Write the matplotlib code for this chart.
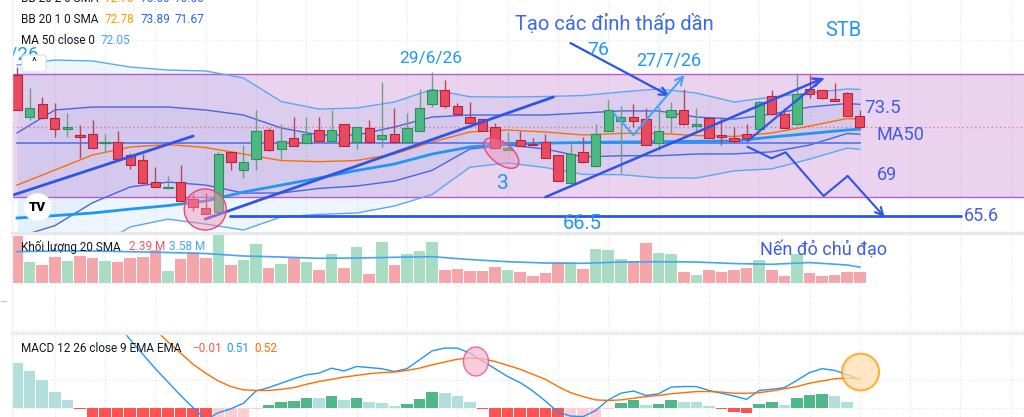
import matplotlib
matplotlib.use('Agg')
import matplotlib.pyplot as plt
from matplotlib.patches import Rectangle, Ellipse, Circle, FancyBboxPatch
from matplotlib.transforms import IdentityTransform

plt.rcParams['font.family'] = ['Roboto', 'DejaVu Sans']

# ---- price data (daily candles) ----
opens = [76.06, 72.93, 73.89, 72.90, 72.06, 71.62, 71.70, 71.00, 71.08, 70.14,
         69.77, 68.16, 67.72, 68.16, 66.86, 66.19, 65.94, 70.34, 69.03, 69.82,
         71.99, 70.56, 71.38, 71.00, 71.97, 71.15, 72.41, 71.08, 72.12, 71.33,
         71.70, 71.08, 71.94, 73.89, 74.95, 73.77, 72.93, 72.81, 72.19, 70.53,
         71.25, 70.95, 71.08, 70.14, 68.09, 70.38, 69.30, 71.94, 72.68, 72.93,
         72.83, 71.00, 72.93, 73.47, 72.31, 72.86, 71.62, 71.38, 71.70, 72.04,
         74.51, 73.15, 72.41, 75.03, 74.95, 74.29, 74.71, 73.03]
highs = [76.66, 75.10, 74.46, 74.01, 73.23, 72.36, 72.73, 71.67, 71.92, 70.26,
         70.19, 69.27, 68.58, 69.40, 67.23, 67.30, 70.34, 70.36, 70.88, 73.47,
         72.16, 72.41, 72.98, 72.98, 72.98, 73.47, 72.43, 72.21, 72.73, 75.52,
         73.60, 73.27, 75.03, 76.31, 75.69, 74.01, 74.09, 72.83, 72.53, 71.86,
         71.92, 71.38, 71.70, 70.16, 70.95, 71.49, 72.41, 74.21, 73.77, 73.89,
         73.64, 73.72, 74.09, 75.03, 73.60, 72.88, 72.98, 72.23, 72.43, 74.11,
         74.95, 73.60, 76.19, 76.06, 74.97, 75.45, 74.78, 73.47]
lows = [73.45, 72.73, 72.84, 71.49, 71.49, 69.94, 70.61, 70.34, 69.80, 69.10,
        68.04, 67.73, 67.70, 66.71, 66.01, 65.77, 65.92, 69.03, 68.41, 69.03,
        70.47, 69.84, 70.79, 70.98, 71.13, 71.13, 70.79, 70.58, 71.06, 70.75,
        71.06, 71.06, 71.92, 73.72, 73.64, 73.16, 72.51, 71.92, 70.61, 70.51,
        70.79, 70.84, 69.92, 68.21, 68.07, 69.58, 69.28, 71.92, 68.83, 72.19,
        70.86, 70.51, 71.75, 72.39, 71.92, 71.40, 70.88, 71.00, 71.25, 72.02,
        73.13, 72.10, 72.39, 74.34, 74.26, 74.12, 73.03, 72.21]
closes = [73.47, 73.60, 72.86, 72.04, 72.23, 71.49, 70.63, 71.10, 69.82, 69.40,
          68.06, 67.75, 67.79, 66.73, 66.31, 65.79, 70.19, 69.60, 69.60, 71.92,
          70.49, 71.15, 70.81, 71.67, 71.15, 71.97, 70.81, 72.19, 71.08, 71.62,
          71.08, 72.16, 73.64, 74.95, 73.79, 73.18, 72.53, 71.94, 70.63, 70.66,
          70.81, 70.86, 69.94, 68.23, 70.19, 69.60, 71.70, 73.47, 72.93, 72.68,
          70.88, 71.92, 73.47, 72.41, 72.43, 71.42, 71.49, 71.18, 71.42, 74.09,
          73.15, 72.12, 74.63, 74.63, 74.34, 74.14, 73.05, 72.23]

# volume in millions
volume = [10.74, 4.69, 4.07, 5.84, 5.06, 6.21, 5.75, 4.99, 4.76, 5.75,
          5.98, 7.52, 2.69, 5.38, 6.99, 5.75, 11.5, 4.07, 5.22, 8.90,
          3.31, 4.30, 5.84, 4.76, 2.85, 6.60, 3.45, 8.14, 2.00, 9.43,
          4.07, 6.60, 7.29, 9.43, 2.85, 3.15, 2.69, 2.69, 3.61, 2.85,
          2.39, 1.54, 2.23, 4.69, 4.69, 3.15, 7.75, 7.52, 5.45, 5.06,
          9.20, 6.83, 6.60, 2.53, 1.77, 2.85, 2.53, 2.85, 3.31, 5.22,
          2.85, 1.54, 6.53, 2.16, 1.54, 1.70, 2.39, 2.39]

# indicator lines, read every third bar
line_idx = [0, 3, 6, 9, 12, 15, 18, 21, 24, 27, 30, 33, 36, 39, 42, 45, 48, 51, 54, 57, 60, 63, 66, 67]
basis = [67.91, 69.02, 70.14, 70.73, 70.91, 70.69, 70.21, 69.73, 69.64, 69.73, 70.21, 71.10,
         71.84, 71.99, 71.84, 71.62, 71.74, 71.74, 71.58, 71.51, 71.77, 72.28, 72.84, 72.78]
bb1_up = [71.77, 73.47, 73.69, 73.69, 73.69, 73.47, 73.10, 72.14, 71.62, 71.62, 72.21, 72.95,
          73.10, 73.10, 73.10, 73.25, 73.40, 73.40, 72.95, 72.80, 73.17, 73.69, 73.95, 73.89]
bb2_up = [76.80, 77.17, 77.10, 76.65, 76.43, 76.36, 75.84, 74.10, 73.54, 73.62, 74.06, 74.99,
          74.45, 74.43, 74.47, 74.54, 74.80, 75.03, 74.73, 74.06, 74.43, 74.73, 75.03, 75.00]
bb1_lo = [64.05, 64.90, 66.60, 67.77, 68.13, 67.91, 67.32, 67.32, 67.66, 67.84, 68.21, 69.00,
          70.58, 70.88, 70.58, 69.99, 70.08, 70.08, 70.21, 70.22, 70.37, 70.87, 71.73, 71.67]
bb2_lo = [59.02, 60.87, 63.18, 64.81, 65.39, 65.02, 64.58, 65.55, 65.74, 65.84, 66.36, 67.21,
          69.23, 69.55, 69.21, 68.70, 68.68, 68.45, 68.43, 68.96, 69.11, 69.83, 70.65, 70.56]
ma50 = [65.47, 65.65, 65.84, 66.13, 66.39, 66.73, 67.39, 67.91, 68.43, 68.99, 69.47, 70.21,
        70.73, 70.95, 71.02, 71.06, 71.10, 71.12, 71.15, 71.17, 71.47, 71.73, 71.99, 72.05]
vol_sma = [7.13, 7.29, 7.29, 7.13, 6.94, 6.71, 6.14, 5.91, 5.61, 5.68, 5.84, 5.98,
           5.33, 4.83, 4.53, 4.46, 4.76, 4.83, 4.76, 4.41, 4.23, 4.64, 4.07, 3.58]
flat_level = 71.0
last_close = 72.23

# MACD 12 26 9
macd = [2.60, 2.58, 2.50, 2.40, 2.25, 2.10, 1.95, 1.78, 1.50, 1.22,
        0.96, 0.70, 0.46, 0.22, 0.00, -0.22, -0.09, -0.02, 0.08, 0.30,
        0.36, 0.44, 0.52, 0.59, 0.62, 0.71, 0.66, 0.74, 0.72, 0.70,
        0.65, 0.70, 0.86, 1.02, 1.07, 1.07, 0.98, 0.84, 0.70, 0.56,
        0.45, 0.30, 0.12, -0.08, -0.15, -0.16, -0.05, 0.14, 0.26, 0.30,
        0.22, 0.25, 0.37, 0.38, 0.38, 0.31, 0.26, 0.21, 0.15, 0.31,
        0.33, 0.36, 0.49, 0.63, 0.70, 0.67, 0.59, 0.51]
signal = [1.80, 1.92, 2.00, 2.08, 2.12, 2.13, 2.10, 2.03, 1.92, 1.76,
          1.59, 1.40, 1.18, 0.98, 0.78, 0.62, 0.48, 0.38, 0.32, 0.31,
          0.31, 0.33, 0.36, 0.42, 0.47, 0.51, 0.55, 0.58, 0.61, 0.63,
          0.64, 0.67, 0.71, 0.77, 0.82, 0.87, 0.89, 0.88, 0.83, 0.76,
          0.69, 0.60, 0.51, 0.38, 0.27, 0.20, 0.14, 0.13, 0.14, 0.17,
          0.20, 0.22, 0.25, 0.27, 0.29, 0.29, 0.28, 0.26, 0.26, 0.27,
          0.30, 0.34, 0.38, 0.44, 0.48, 0.52, 0.53, 0.52]
hist = [0.81, 0.66, 0.50, 0.28, 0.14, -0.03, -0.25, -0.45, -0.55, -0.60,
        -0.65, -0.70, -0.72, -0.76, -0.78, -0.84, -0.57, -0.40, -0.24, -0.03,
        0.05, 0.11, 0.12, 0.18, 0.17, 0.21, 0.14, 0.17, 0.10, 0.08,
        0.03, 0.06, 0.16, 0.28, 0.26, 0.21, 0.10, -0.02, -0.20, -0.22,
        -0.26, -0.30, -0.39, -0.45, -0.42, -0.36, -0.19, -0.03, 0.09, 0.13,
        0.05, 0.06, 0.13, 0.11, 0.10, 0.03, -0.03, -0.07, -0.10, 0.07,
        0.10, 0.05, 0.17, 0.23, 0.24, 0.21, 0.11, -0.01]

# hand drawings (bar index, price)
trend_a = [(-0.32, 67.17), (14.0, 71.54)]
trend_b = [(14.96, 65.39), (42.64, 74.43)]
trend_c = [(42.0, 67.02), (64.12, 75.84)]
trend_d = [(58.07, 71.17), (64.04, 75.77)]
arrow_76 = [(43.99, 78.43), (51.87, 74.51)]
v_arrow = [(47.41, 73.25), (49.0, 71.62), (53.06, 76.06)]
zigzag = [(58.07, 70.75), (59.98, 69.89), (61.10, 70.34), (64.12, 67.10), (66.03, 68.58), (68.97, 65.54)]
support = [(16.95, 65.6), (75.02, 65.6)]
box_lo, box_hi = 67.0, 76.14

W, H = 1024, 417
def fx(x):
    return x / W
def fy(y):
    return 1 - y / H

RED, GREEN = '#e84a5f', '#4db882'
DARK = '#2e55e6'
LIGHT = '#2196f3'
TXT = '#3f5fe0'

fig = plt.figure(figsize=(W / 100, H / 100), dpi=100)
ax = fig.add_axes([fx(12), fy(233), fx(1024 - 12), 233 / H])
axv = fig.add_axes([fx(12), fy(330), fx(1024 - 12), 97 / H])
axm = fig.add_axes([fx(12), 0, fx(1024 - 12), 83 / H])
for a in (ax, axv, axm):
    a.set_xlim(-0.4, 80.05)
    a.set_xticks([])
    a.set_yticks([])
    for s in a.spines.values():
        s.set_visible(False)
    for g in range(3, 80, 4):
        a.axvline(g, color='#dfe2ea', lw=0.8, ls=(0, (1, 2)), zorder=0)
ax.set_ylim(64.36, 81.617)
axv.set_ylim(-10.87, 11.43)
axm.set_ylim(-0.167, 1.323)
ax.axhline(78.65, color='#e3e6ec', lw=0.8, ls=(0, (1, 2)), zorder=0)

idx = list(range(len(closes)))

# bollinger fills, box, lines
ax.fill_between(line_idx, bb2_lo, bb2_up, color='#2196f3', alpha=0.08, lw=0, zorder=1)
ax.fill_between(line_idx, bb1_lo, bb1_up, color='#2196f3', alpha=0.05, lw=0, zorder=1)
ax.add_patch(Rectangle((-2, box_lo), 90, box_hi - box_lo, facecolor='#9c27b0', alpha=0.2,
                       edgecolor='none', zorder=2))
ax.plot([-2, 90], [box_hi, box_hi], color='#b25ccc', lw=1, zorder=2)
ax.plot([-2, 90], [box_lo, box_lo], color='#b25ccc', lw=1, zorder=2)
ax.plot(line_idx, bb2_up, color='#5aa9f0', lw=1, zorder=3)
ax.plot(line_idx, bb2_lo, color='#5aa9f0', lw=1, zorder=3)
ax.plot(line_idx, bb1_up, color='#4a66e0', lw=1, zorder=3)
ax.plot(line_idx, bb1_lo, color='#4a66e0', lw=1, zorder=3)
ax.plot(line_idx, basis, color='#ff6d00', lw=1, zorder=3)
ax.plot([0, idx[-1]], [flat_level, flat_level], color='#5872e8', lw=1.2, zorder=3)
ax.plot(line_idx, ma50, color='#2196f3', lw=2, zorder=3)
ax.axhline(last_close, color='#f23645', lw=1, ls=(0, (1, 2)), alpha=0.6, zorder=3)

# candles
body_c, edge_c, wick_c, bottoms, heights = [], [], [], [], []
for o, c in zip(opens, closes):
    up = c >= o
    body_c.append(GREEN if up else RED)
    edge_c.append('#2f8f5b' if up else '#c0213a')
    wick_c.append('#6f9f7f' if up else '#b04a5a')
    bottoms.append(min(o, c))
    heights.append(max(abs(c - o), 0.08))
ax.vlines(idx, lows, highs, colors=wick_c, lw=1, zorder=5)
ax.bar(idx, heights, bottom=bottoms, width=0.74, color=body_c, edgecolor=edge_c,
       linewidth=0.8, zorder=6)

# drawings
def seg(pts, **kw):
    ax.plot([p[0] for p in pts], [p[1] for p in pts], solid_capstyle='round', **kw)

def arrow(pts, color, lw):
    if len(pts) > 2:
        seg(pts[:-1], color=color, lw=lw, zorder=7)
    ax.annotate('', xy=pts[-1], xytext=pts[-2], zorder=7,
                arrowprops=dict(arrowstyle='->', color=color, lw=lw, mutation_scale=14,
                                shrinkA=0, shrinkB=0))

seg(trend_a, color=DARK, lw=2, zorder=7)
seg(trend_b, color=DARK, lw=2, zorder=7)
seg(trend_d, color=DARK, lw=1.6, zorder=7)
arrow(trend_c, DARK, 1.8)
arrow(arrow_76, DARK, 1.6)
arrow(v_arrow, '#42a5f5', 1.5)
arrow(zigzag, DARK, 1.5)
seg(support, color=DARK, lw=2, zorder=7)

ax.add_patch(Ellipse((14.96, 66.10), 3.34, 3.04, facecolor='#f48fb1', alpha=0.45,
                     edgecolor='none', zorder=8))
ax.add_patch(Ellipse((14.96, 66.10), 3.34, 3.04, facecolor='none', edgecolor='#e8457c', lw=1, zorder=8))
ax.add_patch(Ellipse((38.5, 70.28), 3.2, 1.6, angle=-35, facecolor='#f48fb1', alpha=0.4,
                     edgecolor='none', zorder=8))
ax.add_patch(Ellipse((38.5, 70.28), 3.2, 1.6, angle=-35, facecolor='none', edgecolor='#e8457c',
                     lw=1, zorder=8))

# chart notes
ax.text(32.86, 77.32, '29/6/26', color=LIGHT, fontsize=12.5, ha='center', va='center', zorder=9)
ax.text(47.49, 79.91, 'Tạo các đỉnh thấp dần', color='#3a6ae8', fontsize=14.5, ha='center',
        va='center', zorder=9)
ax.text(46.22, 77.91, '76', color=LIGHT, fontsize=14, ha='center', va='center', zorder=9)
ax.text(51.79, 77.17, '27/7/26', color=LIGHT, fontsize=13, ha='center', va='center', zorder=9)
ax.text(65.71, 79.39, 'STB', color=LIGHT, fontsize=14.5, ha='center', va='center', zorder=9)
ax.text(67.38, 73.62, '73.5', color=TXT, fontsize=13.5, ha='left', va='center', zorder=9)
ax.text(68.34, 71.62, 'MA50', color=TXT, fontsize=13, ha='left', va='center', zorder=9)
ax.text(68.34, 68.65, '69', color=TXT, fontsize=13, ha='left', va='center', zorder=9)
ax.text(38.66, 68.06, '3', color=LIGHT, fontsize=15, ha='center', va='center', zorder=9)
ax.text(44.95, 65.1, '66.5', color=LIGHT, fontsize=14.5, ha='center', va='center', zorder=9)
ax.text(75.26, 65.62, '65.6', color=TXT, fontsize=13, ha='left', va='center', zorder=9)
ax.text(1.75, 77.6, '7/26', color=LIGHT, fontsize=13.5, ha='right', va='center', zorder=9,
        clip_on=True)

# volume pane
vol_c = ['#a8dcc3' if c >= o else '#f4a6aa' for o, c in zip(opens, closes)]
axv.bar(idx, volume, width=0.92, color=vol_c, zorder=2)
axv.plot(line_idx, vol_sma, color='#42a5f5', lw=1.2, zorder=3)

# macd pane
h_cols = []
for i, h in enumerate(hist):
    prev = hist[i - 1] if i > 0 else h + 0.1
    if h >= 0:
        h_cols.append('#52b788' if h > prev else '#b2dfdb')
    else:
        h_cols.append('#ff5252' if h < prev else '#ffcdd2')
axm.axhline(0, color='#dfe2ea', lw=0.8, ls=(0, (1, 2)), zorder=0)
axm.axhline(0.5, color='#dfe2ea', lw=0.8, ls=(0, (1, 2)), zorder=0)
axm.bar(idx, hist, width=0.92, color=h_cols, zorder=2)
axm.plot(idx, macd, color='#2196f3', lw=1, zorder=3)
axm.plot(idx, signal, color='#ff6d00', lw=1, zorder=3)
axm.add_patch(Ellipse((36.48, 0.83), 1.99, 0.52, facecolor='#f8bbd0', alpha=0.75,
                      edgecolor='#e8457c', lw=1, zorder=4))
axm.add_patch(Ellipse((67.06, 0.64), 2.94, 0.66, facecolor='#ffe0b2', alpha=0.75,
                      edgecolor='#ff9800', lw=1.5, zorder=4))

# pane separators and left strip
fig.add_artist(plt.Line2D([fx(12), 1], [fy(233), fy(233)], color='#e6e8ee', lw=2.5))
fig.add_artist(plt.Line2D([fx(12), 1], [fy(330), fy(330)], color='#e6e8ee', lw=0.8, ls=(0, (1, 2))))
fig.add_artist(plt.Line2D([fx(12), 1], [fy(333), fy(333)], color='#eceef2', lw=2.5))
fig.add_artist(plt.Line2D([fx(12), fx(12)], [0, 1], color='#eef0f4', lw=1))
fig.add_artist(plt.Line2D([fx(1), fx(6)], [fy(301), fy(301)], color='#c8cbd2', lw=1))

# legends
lab = '#131722'
fs = 8.5
def legend(y, parts):
    for x, s, c in parts:
        fig.text(fx(x), fy(y), s, color=c, fontsize=fs, ha='left', va='center')

legend(-1, [(21, 'BB 20 2 0 SMA', lab), (105, '72.78', '#ff9800'), (141, '75.00', '#2962ff'),
            (175, '70.56', '#2962ff')])
legend(19.5, [(21, 'BB 20 1 0 SMA', lab), (105, '72.78', '#ff9800'), (141, '73.89', '#2962ff'),
              (175, '71.67', '#2962ff')])
legend(41, [(21, 'MA 50 close 0', lab), (101, '72.05', '#42a5f5')])
legend(247, [(21, 'Khối lượng 20 SMA', lab), (129, '2.39 M', '#f7525f'), (169, '3.58 M', '#42a5f5')])
legend(349, [(21, 'MACD 12 26 close 9 EMA EMA', lab), (192, '\u22120.01', '#ff5252'),
             (226, '0.51', '#2196f3'), (254, '0.52', '#ff6d00')])
fig.text(fx(824), fy(250), 'Nến đỏ chủ đạo', color=TXT, fontsize=13, ha='center', va='center')

# collapse button and logo
fig.add_artist(FancyBboxPatch((22, H - 72), 24, 17, boxstyle='round,pad=0,rounding_size=3',
                              facecolor='white', edgecolor='#e0e3eb', lw=1, transform=IdentityTransform()))
fig.text(fx(34), fy(62), '^', color='#131722', fontsize=8, ha='center', va='center')
fig.add_artist(Circle((37.7, H - 207.3), 14, facecolor='white', edgecolor='#eeeeee', lw=0.5,
                      transform=IdentityTransform()))
fig.text(fx(37.7), fy(207.3), 'TV', color='black', fontsize=9.5, fontweight='heavy',
         ha='center', va='center')

fig.savefig('out.png', dpi=100)
